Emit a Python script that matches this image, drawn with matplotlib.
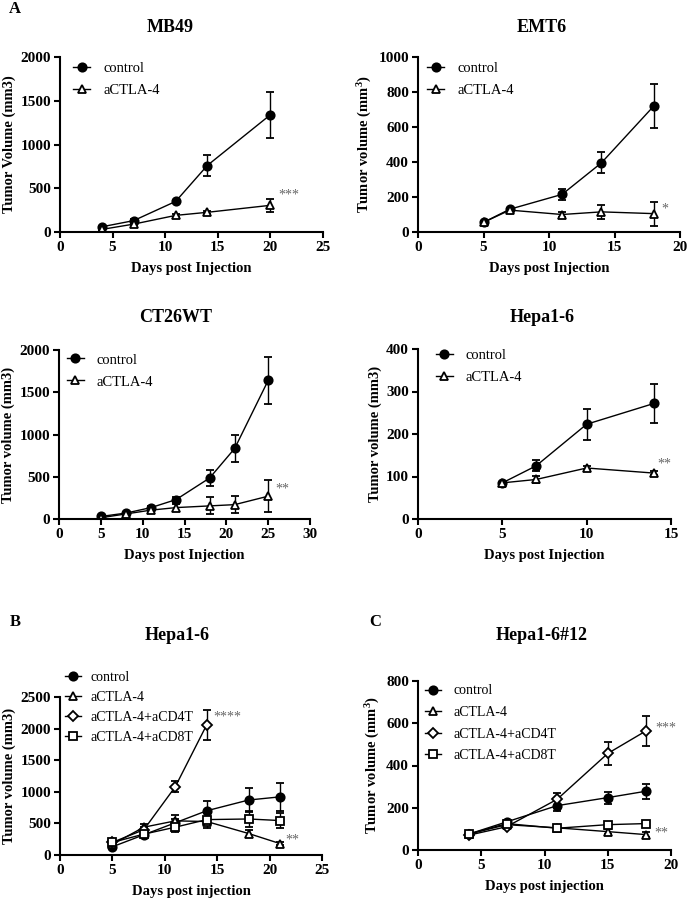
import matplotlib
matplotlib.use("Agg")
import matplotlib.pyplot as plt

plt.rcParams['font.family'] = ['Liberation Serif', 'DejaVu Serif']
plt.rcParams['mathtext.default'] = 'regular'

# ---- data ----
mb49_days = [4, 7, 11, 14, 20]
mb49_ctrl = [60, 130, 350, 760, 1340]
mb49_ctrl_err = [10, 15, 20, 120, 260]
mb49_ctla = [30, 90, 190, 225, 305]
mb49_ctla_err = [8, 12, 20, 20, 75]

emt6_days = [5, 7, 11, 14, 18]
emt6_ctrl = [55, 130, 215, 395, 720]
emt6_ctrl_err = [8, 10, 30, 60, 125]
emt6_ctla = [55, 125, 100, 115, 105]
emt6_ctla_err = [8, 10, 12, 40, 68]

ct26_days = [5, 8, 11, 14, 18, 21, 25]
ct26_ctrl = [30, 70, 135, 230, 485, 835, 1640]
ct26_ctrl_err = [8, 12, 20, 25, 95, 155, 280]
ct26_ctla = [15, 60, 105, 135, 155, 170, 270]
ct26_ctla_err = [5, 10, 20, 40, 100, 100, 190]

hepa_days = [5, 7, 10, 14]
hepa_ctrl = [85, 125, 223, 272]
hepa_ctrl_err = [3, 13, 37, 45]
hepa_ctla = [85, 93, 120, 108]
hepa_ctla_err = [3, 9, 5, 5]

b_days = [5, 8, 11, 14, 18, 21]
b_ctrl = [130, 320, 510, 700, 870, 920]
b_ctrl_err = [20, 30, 60, 150, 190, 220]
b_ctla = [170, 440, 540, 530, 340, 180]
b_ctla_err = [20, 50, 100, 60, 50, 20]
b_cd4_days = [5, 8, 11, 14]
b_cd4 = [200, 400, 1080, 2060]
b_cd4_err = [20, 40, 90, 240]
b_cd8 = [200, 330, 440, 560, 570, 545]
b_cd8_err = [20, 30, 80, 130, 120, 120]

c_days = [4, 7, 11, 15, 18]
c_ctrl = [75, 133, 210, 248, 278]
c_ctrl_err = [5, 8, 25, 28, 35]
c_ctla = [75, 120, 105, 87, 73]
c_ctla_err = [5, 8, 8, 12, 10]
c_cd4 = [70, 110, 240, 457, 563]
c_cd4_err = [5, 8, 30, 55, 73]
c_cd8 = [75, 125, 103, 120, 125]
c_cd8_err = [5, 8, 10, 12, 10]

labels2 = ['control', 'aCTLA-4']
labels4 = ['control', 'aCTLA-4', 'aCTLA-4+aCD4T', 'aCTLA-4+aCD8T']

W, H = 689, 898
fig = plt.figure(figsize=(W / 100, H / 100), dpi=100)


def box(l, t, r, b):
    return [l / W, 1 - b / H, (r - l) / W, (b - t) / H]


def series(ax, x, y, err, marker, filled=False, ms=6):
    c = ax.errorbar(x, y, yerr=err, color='black', lw=1, marker=marker,
                    ms=ms, mfc='black' if filled else 'white', mec='black',
                    mew=1.3, capsize=3, elinewidth=1, capthick=1)
    return c[0]


def style(ax, xmax, ymax, ystep, ylabel, xlabel):
    for s in ['top', 'right']:
        ax.spines[s].set_visible(False)
    for s in ['left', 'bottom']:
        ax.spines[s].set_linewidth(1.5)
    ax.set_xlim(0, xmax)
    ax.set_ylim(0, ymax)
    ax.set_xticks(range(0, xmax + 1, 5))
    ax.set_yticks(range(0, ymax + 1, ystep))
    ax.tick_params(width=1.5, length=4.5, labelsize=11, pad=2)
    for t in ax.get_xticklabels() + ax.get_yticklabels():
        t.set_fontweight('bold')
    ax.set_xlabel(xlabel, fontsize=10.5, fontweight='bold', labelpad=6)
    ax.set_ylabel(ylabel, fontsize=10.5, fontweight='bold', labelpad=3)


def legend(ax, handles, labels, anchor, spacing=0.6, size=10.5, pad=0.9):
    ax.legend(handles, labels, loc='upper left', bbox_to_anchor=anchor,
              frameon=False, fontsize=size, handlelength=1.15,
              handletextpad=pad, labelspacing=spacing, borderpad=0,
              borderaxespad=0)


def stars(ax, x, y, s):
    ax.text(x, y, s, color='#666666', fontsize=10, ha='left', va='center')


def title(x, y, s):
    fig.text(x / W, 1 - y / H, s, ha='center', va='center',
             fontsize=13, fontweight='bold')


# MB49
ax = fig.add_axes(box(60, 57, 323, 232))
h = [series(ax, mb49_days, mb49_ctrl, mb49_ctrl_err, 'o', True),
     series(ax, mb49_days, mb49_ctla, mb49_ctla_err, '^')]
style(ax, 25, 2000, 500, 'Tumor Volume (mm3)', 'Days post Injection')
legend(ax, h, labels2, (0.05, 0.97))
stars(ax, 20.8, 420, '***')
title(170, 27, 'MB49')

# EMT6
ax = fig.add_axes(box(418, 57, 680, 232))
h = [series(ax, emt6_days, emt6_ctrl, emt6_ctrl_err, 'o', True),
     series(ax, emt6_days, emt6_ctla, emt6_ctla_err, '^')]
style(ax, 20, 1000, 200, 'Tumor volume (mm$^3$)', 'Days post Injection')
legend(ax, h, labels2, (0.035, 0.97))
stars(ax, 18.6, 130, '*')
title(542, 27, 'EMT6')

# CT26WT
ax = fig.add_axes(box(59, 350, 310, 519))
h = [series(ax, ct26_days, ct26_ctrl, ct26_ctrl_err, 'o', True),
     series(ax, ct26_days, ct26_ctla, ct26_ctla_err, '^')]
style(ax, 30, 2000, 500, 'Tumor volume (mm3)', 'Days post Injection')
legend(ax, h, labels2, (0.032, 0.98))
stars(ax, 25.9, 350, '**')
title(176, 318, 'CT26WT')

# Hepa1-6
ax = fig.add_axes(box(418, 349, 671, 519))
h = [series(ax, hepa_days, hepa_ctrl, hepa_ctrl_err, 'o', True),
     series(ax, hepa_days, hepa_ctla, hepa_ctla_err, '^')]
style(ax, 15, 400, 100, 'Tumor volume (mm3)', 'Days post Injection')
legend(ax, h, labels2, (0.071, 1.0))
stars(ax, 14.2, 130, '**')
title(542, 318, 'Hepa1-6')

# B
ax = fig.add_axes(box(60, 697, 322, 855))
h = [series(ax, b_days, b_ctrl, b_ctrl_err, 'o', True),
     series(ax, b_days, b_ctla, b_ctla_err, '^'),
     series(ax, b_cd4_days, b_cd4, b_cd4_err, 'D', ms=5),
     series(ax, b_days, b_cd8, b_cd8_err, 's')]
style(ax, 25, 2500, 500, 'Tumor volume (mm3)', 'Days post injection')
legend(ax, h, labels4, (0.02, 1.165), spacing=0.5, size=10, pad=0.7)
stars(ax, 14.6, 2180, '****')
stars(ax, 21.5, 230, '**')
title(177, 635, 'Hepa1-6')

# C
ax = fig.add_axes(box(418, 681, 671, 850))
h = [series(ax, c_days, c_ctrl, c_ctrl_err, 'o', True),
     series(ax, c_days, c_ctla, c_ctla_err, '^'),
     series(ax, c_days, c_cd4, c_cd4_err, 'D', ms=5),
     series(ax, c_days, c_cd8, c_cd8_err, 's')]
style(ax, 20, 800, 200, 'Tumor volume (mm$^3$)', 'Days post injection')
legend(ax, h, labels4, (0.028, 0.98), spacing=0.62, size=10)
stars(ax, 18.8, 575, '***')
stars(ax, 18.7, 80, '**')
title(542, 635, 'Hepa1-6#12')

# panel letters
fig.text(15 / W, 1 - 9 / H, 'A', ha='center', va='center', fontsize=12, fontweight='bold')
fig.text(15 / W, 1 - 622 / H, 'B', ha='center', va='center', fontsize=12, fontweight='bold')
fig.text(375 / W, 1 - 622 / H, 'C', ha='center', va='center', fontsize=12, fontweight='bold')

fig.savefig('out.png', dpi=100)
